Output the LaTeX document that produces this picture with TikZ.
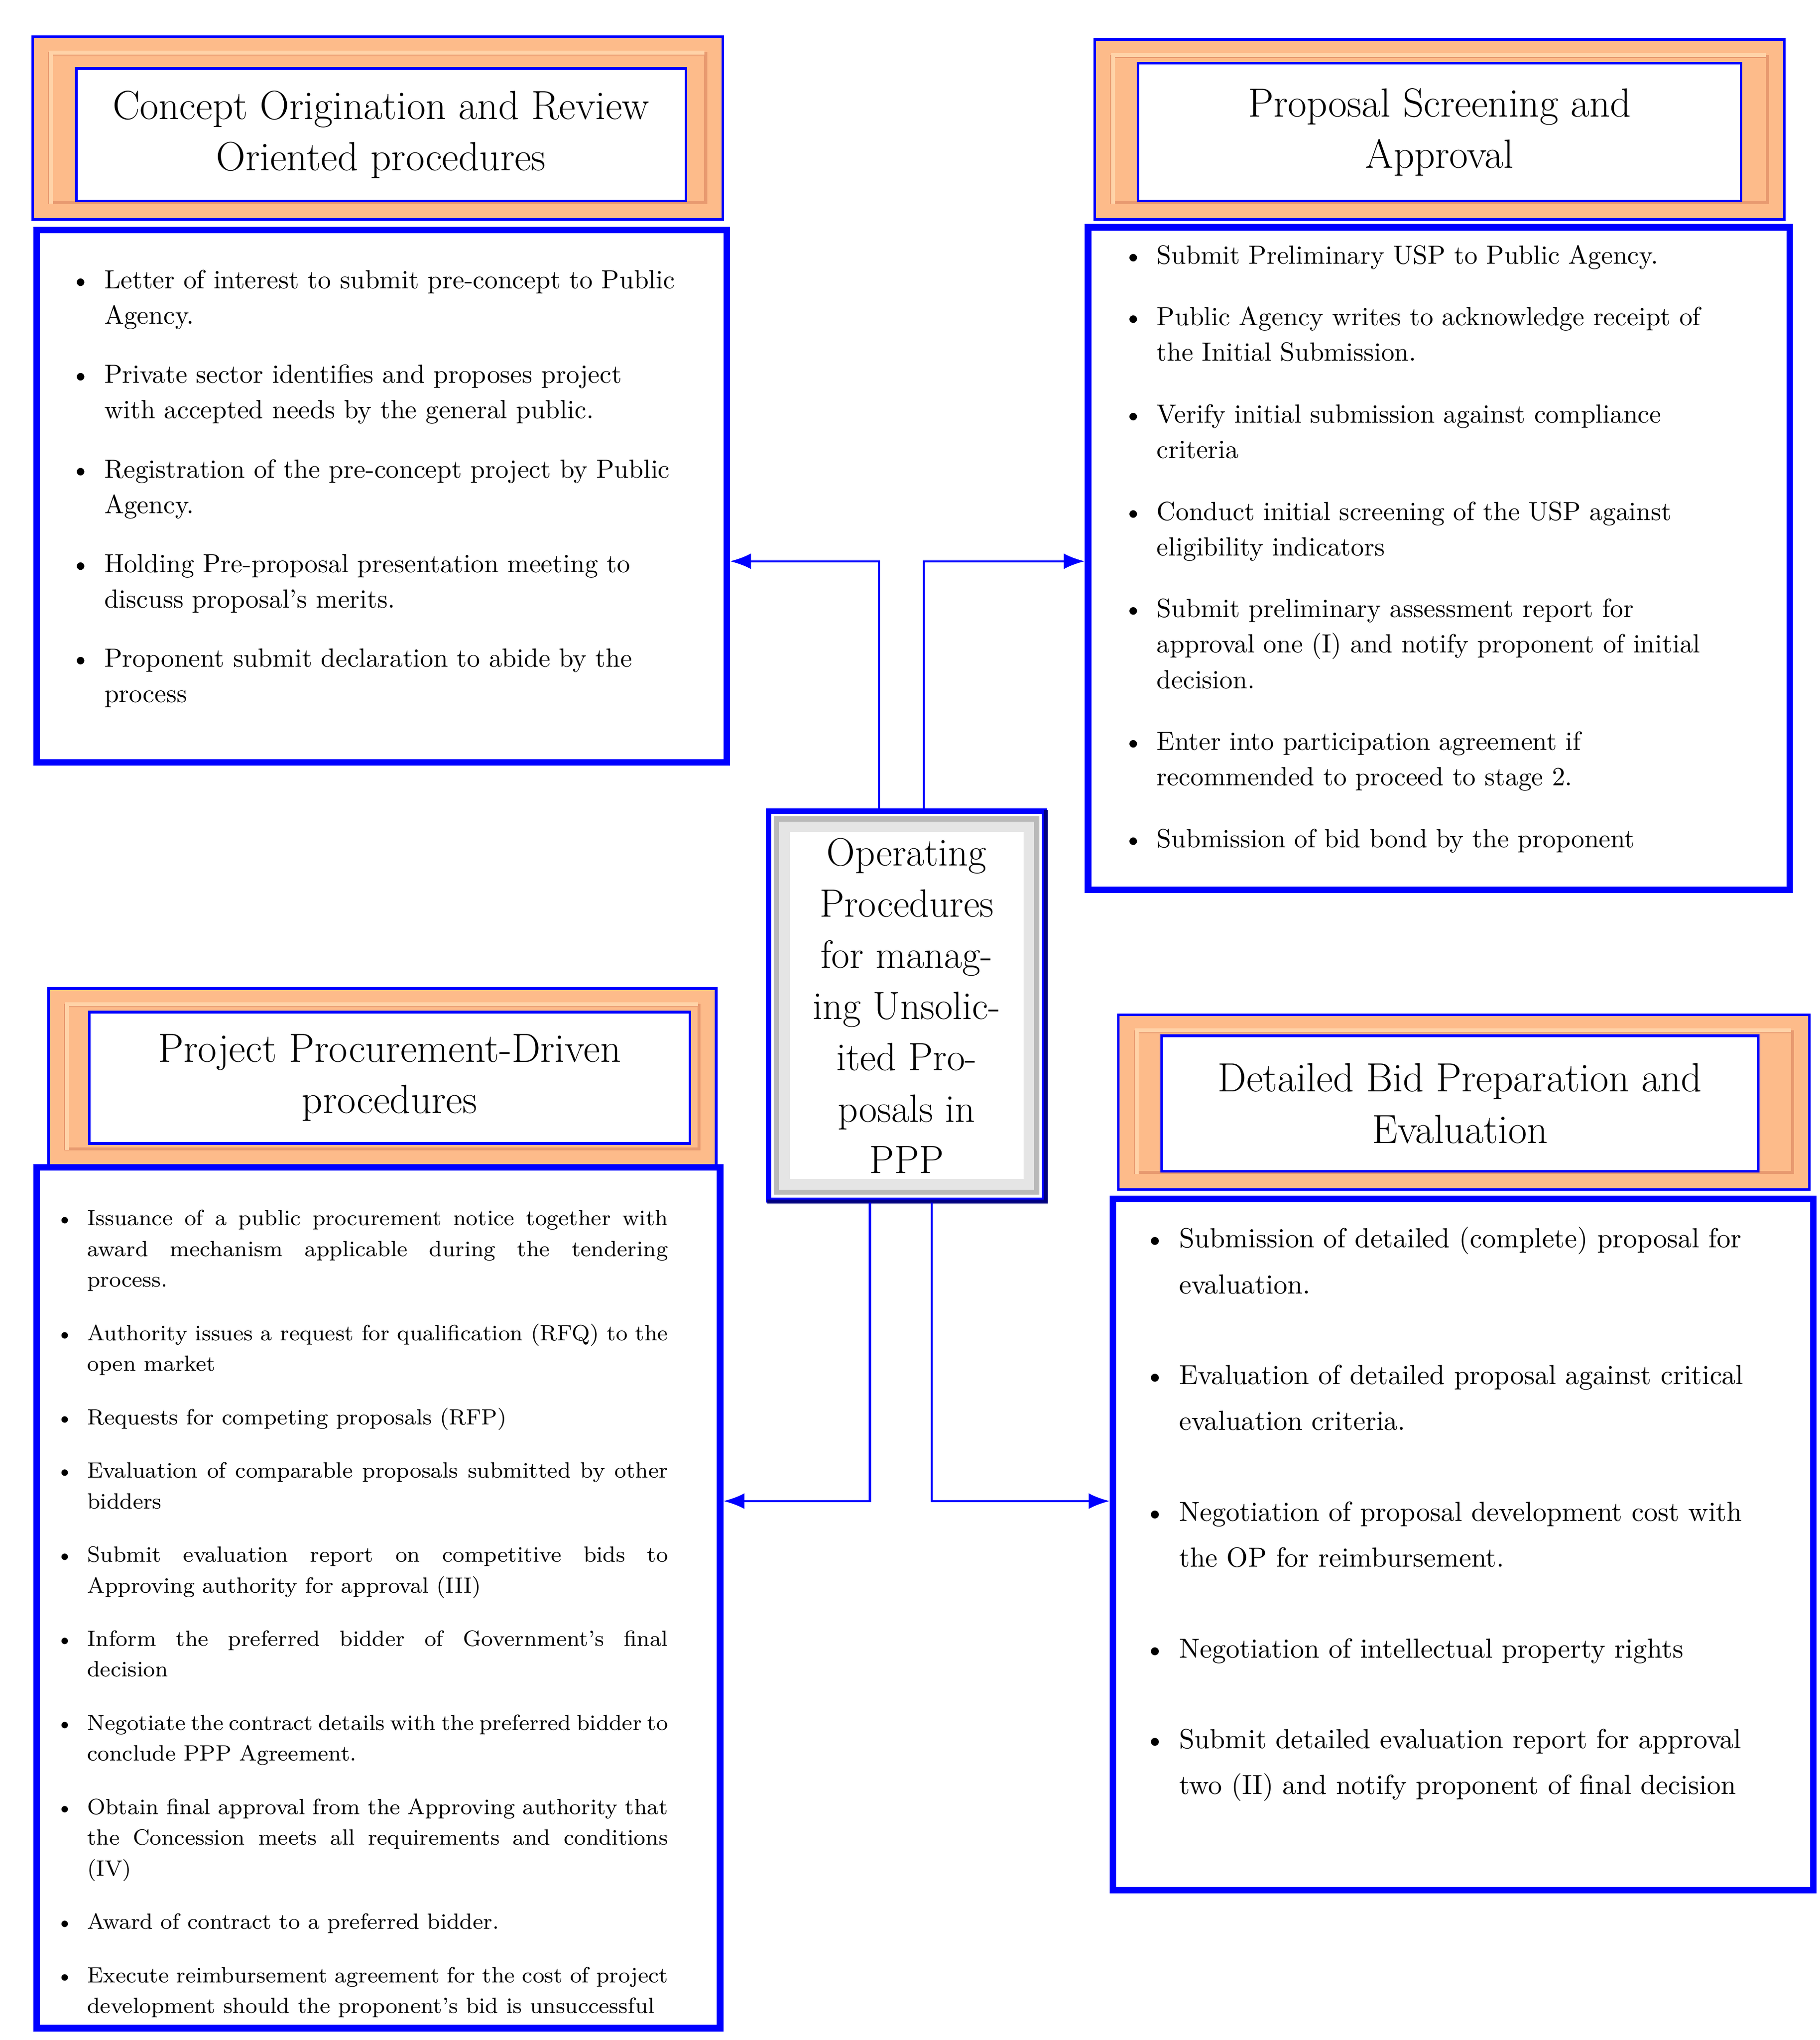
\documentclass[tikz,border=0pt]{standalone}
\usetikzlibrary{fit,calc,arrows.meta}
\definecolor{peach}{HTML}{FDBB8A}
\definecolor{peachd}{HTML}{E89A70}
\definecolor{peachl}{HTML}{FFD3A8}
\definecolor{bblue}{HTML}{0000FF}
\definecolor{navyb}{HTML}{000080}
\newcommand\myblist[3]{\setlength\leftmargini{#1}\begin{itemize}\setlength\itemsep{#2}\setlength\parskip{0pt}\setlength\parsep{0pt}#3\end{itemize}}
\tikzset{
 bigbox/.style={draw=bblue,line width=2.5pt,inner sep=0pt},
 hdrout/.style={draw=bblue,line width=1pt,fill=peach,inner sep=0pt},
 hdrin/.style={draw=bblue,line width=1pt,fill=white,inner sep=0pt,align=center,font=\fontsize{15.5}{19.5}\selectfont},
 arr/.style={draw=bblue,line width=0.8pt,-{Latex[length=8pt,width=6pt]}},
 txt/.style={anchor=north west,inner sep=0pt}
}
\newcommand\hdr[9]{%
 \node[hdrout,fit={(#2,#3)(#4,#5)}] (#1o) {};
 \draw[peachd,line width=1.2pt] ($(#1o.north west)+(14,14)$) rectangle ($(#1o.south east)+(-14,-14)$);
 \draw[peachl,line width=1.5pt] ($(#1o.south west)+(15,-13)$) -- ($(#1o.north west)+(15,13)$) -- ($(#1o.north east)+(-15,13)$);
 \node[hdrin,fit={(#6,#7)(#8,#9)}] (#1) {};
}
\begin{document}
\begin{tikzpicture}[x=0.5pt,y=-0.5pt]
\useasboundingbox (0,0) rectangle (1385,1552);
% headers
\hdr{h1}{25}{28}{550}{167}{58}{52}{522}{153}
\node[align=center,font=\fontsize{15.5}{19.5}\selectfont] at (h1) {Concept Origination and Review\\Oriented procedures};
\hdr{h2}{833}{30}{1358}{167}{866}{48}{1325}{153}
\node[align=center,font=\fontsize{15.5}{19.5}\selectfont] at (h2) {Proposal Screening and\\Approval};
\hdr{h3}{37}{752}{545}{887}{68}{770}{525}{870}
\node[align=center,font=\fontsize{15.5}{19.5}\selectfont] at (h3) {Project Procurement-Driven\\procedures};
\hdr{h4}{851}{772}{1377}{905}{884}{788}{1338}{891}
\node[align=center,font=\fontsize{15.5}{19.5}\selectfont] at (h4) {Detailed Bid Preparation and\\Evaluation};
% boxes
\node[bigbox,fit={(28,175)(553,580)}] (b1) {};
\node[bigbox,fit={(828,173)(1362,677)}] (b2) {};
\node[bigbox,fit={(28,888)(548,1543)}] (b3) {};
\node[bigbox,fit={(847,912)(1380,1438)}] (b4) {};
% center
\node[draw=bblue,line width=2pt,fill=white,inner sep=0pt,fit={(585,617)(795,913)}] (cen) {};
\draw[navyb,line width=1.5pt] ($(cen.north east)+(-1,1)$) -- ($(cen.south east)+(-1,-1)$) -- ($(cen.south west)+(1,-1)$);
\fill[gray!55] ($(cen.north west)+(6,6)$) rectangle ($(cen.south east)+(-6,-6)$);
\fill[gray!20] ($(cen.north west)+(10,10)$) rectangle ($(cen.south east)+(-10,-10)$);
\fill[white] ($(cen.north west)+(18,18)$) rectangle ($(cen.south east)+(-18,-18)$);
\node[align=center,font=\fontsize{15}{19.5}\selectfont] at (cen) {Operating\\Procedures\\for manag-\\ing Unsolic-\\ited Pro-\\posals in\\PPP};
% connectors
\coordinate (ya) at (0,427);
\coordinate (yb) at (0,1142);
\draw[arr] (cen.north -| 669,0) |- (b1.east |- ya);
\draw[arr] (cen.north -| 703,0) |- (b2.west |- ya);
\draw[arr] (cen.south -| 662,0) |- (b3.east |- yb);
\draw[arr] (cen.south -| 709,0) |- (b4.west |- yb);
% texts
\node[txt] (t1) at (57,205) {\begin{minipage}[t]{250pt}\fontsize{10}{13.5}\selectfont\raggedright\myblist{11pt}{9pt}{%
\item Letter of interest to submit pre-concept to Public\\ Agency.
\item Private sector identifies and proposes project\\ with accepted needs by the general public.
\item Registration of the pre-concept project by Public\\ Agency.
\item Holding Pre-proposal presentation meeting to\\ discuss proposal's merits.
\item Proponent submit declaration to abide by the\\ process}\end{minipage}};
\node[txt] (t2) at (858,186) {\begin{minipage}[t]{250pt}\fontsize{10}{13.5}\selectfont\raggedright\myblist{11pt}{10pt}{%
\item Submit Preliminary USP to Public Agency.
\item Public Agency writes to acknowledge receipt of\\ the Initial Submission.
\item Verify initial submission against compliance\\ criteria
\item Conduct initial screening of the USP against\\ eligibility indicators
\item Submit preliminary assessment report for\\ approval one (I) and notify proponent of initial\\ decision.
\item Enter into participation agreement if\\ recommended to proceed to stage 2.
\item Submission of bid bond by the proponent}\end{minipage}};
\node[txt] (t3) at (45,920) {\begin{minipage}[t]{231.5pt}\fontsize{8.4}{11.75}\selectfont\hyphenpenalty=10000\myblist{10.5pt}{8.5pt}{%
\item Issuance of a public procurement notice together with\linebreak award mechanism applicable during the tendering\linebreak process.
\item Authority issues a request for qualification (RFQ) to the\linebreak open market
\item Requests for competing proposals (RFP)
\item Evaluation of comparable proposals submitted by other\linebreak bidders
\item Submit evaluation report on competitive bids to\linebreak Approving authority for approval (III)
\item Inform the preferred bidder of Government's final\linebreak decision
\item Negotiate the contract details with the preferred bidder to\linebreak conclude PPP Agreement.
\item Obtain final approval from the Approving authority that\linebreak the Concession meets all requirements and conditions (IV)
\item Award of contract to a preferred bidder.
\item Execute reimbursement agreement for the cost of project\linebreak development should the proponent's bid is unsuccessful}\end{minipage}};
\node[txt] (t4) at (876,933) {\begin{minipage}[t]{250pt}\fontsize{10.5}{17.5}\selectfont\raggedright\myblist{10.5pt}{17pt}{%
\item Submission of detailed (complete) proposal for\\ evaluation.
\item Evaluation of detailed proposal against critical\\ evaluation criteria.
\item Negotiation of proposal development cost with\\ the OP for reimbursement.
\item Negotiation of intellectual property rights
\item Submit detailed evaluation report for approval\\ two (II) and notify proponent of final decision}\end{minipage}};
\end{tikzpicture}
\end{document}
